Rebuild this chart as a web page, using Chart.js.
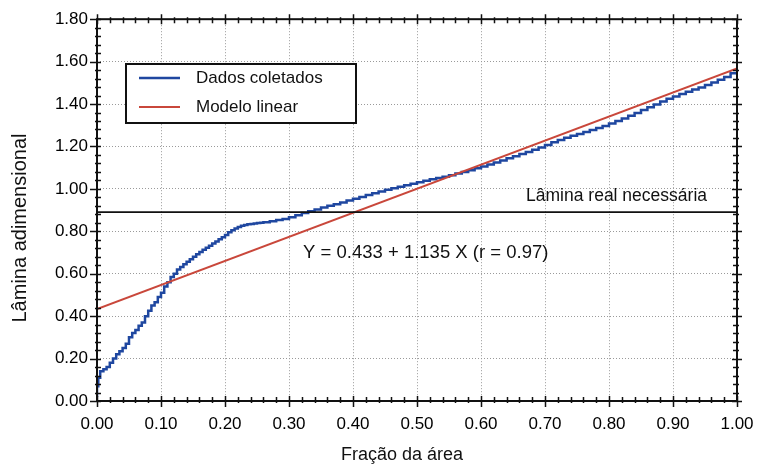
<!DOCTYPE html>
<html>
<head>
<meta charset="utf-8">
<script src="https://cdn.jsdelivr.net/npm/chart.js@4/dist/chart.umd.min.js"></script>
<style>
  html, body { margin: 0; padding: 0; background: #ffffff; }
  canvas { display: block; }
</style>
</head>
<body>
<canvas id="grafico" width="767" height="466"></canvas>
<script>
// Fração da área (eixo X) e lâmina adimensional medida (eixo Y)
const fracaoArea = [
  0.000, 0.002, 0.005, 0.010, 0.015, 0.020, 0.025, 0.030, 0.035, 0.040,
  0.045, 0.050, 0.055, 0.060, 0.065, 0.070, 0.075, 0.080, 0.085, 0.090,
  0.095, 0.100, 0.105, 0.110, 0.115, 0.120, 0.125, 0.130, 0.135, 0.140,
  0.145, 0.150, 0.155, 0.160, 0.165, 0.170, 0.175, 0.180, 0.185, 0.190,
  0.195, 0.200, 0.205, 0.210, 0.215, 0.220, 0.225, 0.230, 0.235, 0.240,
  0.245, 0.250, 0.255, 0.260, 0.270, 0.280, 0.290, 0.300, 0.310, 0.320,
  0.330, 0.340, 0.350, 0.360, 0.370, 0.380, 0.390, 0.400, 0.410, 0.420,
  0.430, 0.440, 0.450, 0.460, 0.470, 0.480, 0.490, 0.500, 0.510, 0.520,
  0.530, 0.540, 0.550, 0.560, 0.570, 0.580, 0.590, 0.600, 0.610, 0.620,
  0.630, 0.640, 0.650, 0.660, 0.670, 0.680, 0.690, 0.700, 0.710, 0.720,
  0.730, 0.740, 0.750, 0.760, 0.770, 0.780, 0.790, 0.800, 0.810, 0.820,
  0.830, 0.840, 0.850, 0.860, 0.870, 0.880, 0.890, 0.900, 0.910, 0.920,
  0.930, 0.940, 0.950, 0.960, 0.970, 0.980, 0.990, 1.000
];
const laminaColetada = [
  0.020, 0.070, 0.110, 0.140, 0.150, 0.160, 0.180, 0.200, 0.220, 0.235,
  0.250, 0.270, 0.300, 0.320, 0.335, 0.355, 0.370, 0.400, 0.425, 0.450,
  0.465, 0.490, 0.510, 0.540, 0.560, 0.585, 0.600, 0.620, 0.632, 0.645,
  0.657, 0.668, 0.680, 0.692, 0.703, 0.713, 0.722, 0.732, 0.742, 0.752,
  0.762, 0.772, 0.783, 0.795, 0.805, 0.813, 0.820, 0.826, 0.830, 0.833,
  0.835, 0.837, 0.839, 0.840, 0.843, 0.848, 0.853, 0.858, 0.866, 0.876,
  0.886, 0.895, 0.903, 0.912, 0.920, 0.928, 0.936, 0.945, 0.953, 0.962,
  0.971, 0.979, 0.988, 0.996, 1.003, 1.010, 1.017, 1.024, 1.031, 1.038,
  1.045, 1.051, 1.057, 1.064, 1.072, 1.080, 1.088, 1.097, 1.106, 1.115,
  1.124, 1.134, 1.144, 1.154, 1.164, 1.174, 1.184, 1.195, 1.207, 1.220,
  1.231, 1.241, 1.250, 1.259, 1.268, 1.278, 1.287, 1.297, 1.308, 1.320,
  1.332, 1.345, 1.358, 1.372, 1.385, 1.398, 1.412, 1.425, 1.436, 1.447,
  1.458, 1.468, 1.478, 1.490, 1.502, 1.515, 1.528, 1.545
];

// Modelo linear ajustado: Y = a + b X
const interceptoModelo = 0.433;
const inclinacaoModelo = 1.135;
const coefCorrelacao = 0.97;
const extremosX = [0, 1];

// Lâmina real necessária (linha de referência)
const laminaNecessaria = 0.89;

// Marcas dos eixos
const ticksX = [0.0, 0.1, 0.2, 0.3, 0.4, 0.5, 0.6, 0.7, 0.8, 0.9, 1.0];
const ticksY = [0.0, 0.2, 0.4, 0.6, 0.8, 1.0, 1.2, 1.4, 1.6, 1.8];

const rotuloDados = 'Dados coletados';
const rotuloModelo = 'Modelo linear';
const rotuloNecessaria = 'Lâmina real necessária';
const tituloX = 'Fração da área';
const tituloY = 'Lâmina adimensional';

const FONTE = "'Liberation Sans', Arial, sans-serif";
const COR_AZUL = '#1f47a0';
const COR_VERMELHO = '#c9473b';

const pontosDados = fracaoArea.map((x, i) => ({ x: x, y: laminaColetada[i] }));
const pontosModelo = extremosX.map(x => ({ x: x, y: interceptoModelo + inclinacaoModelo * x }));
const pontosNecessaria = extremosX.map(x => ({ x: x, y: laminaNecessaria }));
const textoEquacao = 'Y = ' + interceptoModelo.toFixed(3) + ' + ' + inclinacaoModelo.toFixed(3) +
  ' X (r = ' + coefCorrelacao.toFixed(2) + ')';

// Moldura com marcas principais e secundárias, legenda e anotações
const decoracao = {
  id: 'decoracao',
  afterDatasetsDraw(chart) {
    const ctx = chart.ctx;
    const a = chart.chartArea;
    const sx = chart.scales.x, sy = chart.scales.y;
    ctx.save();
    ctx.strokeStyle = '#111';
    ctx.lineWidth = 2;
    ctx.strokeRect(a.left, a.top, a.right - a.left, a.bottom - a.top);
    ctx.lineWidth = 1.5;
    ctx.beginPath();
    for (let k = 0; k <= 50; k++) {
      const px = Math.round(sx.getPixelForValue(k * 0.02)) + 0.5;
      const major = k % 5 === 0;
      ctx.moveTo(px, a.bottom + (major ? 6 : 2));
      ctx.lineTo(px, a.bottom - (major ? 5 : 4));
      ctx.moveTo(px, a.top - (major ? 5 : 2));
      ctx.lineTo(px, a.top + (major ? 5 : 4));
    }
    for (let k = 0; k <= 45; k++) {
      const py = Math.round(sy.getPixelForValue(k * 0.04)) + 0.5;
      const major = k % 5 === 0;
      ctx.moveTo(a.left - (major ? 7 : 2), py);
      ctx.lineTo(a.left + 4, py);
      ctx.moveTo(a.right + (major ? 5 : 2), py);
      ctx.lineTo(a.right - (major ? 5 : 4), py);
    }
    ctx.stroke();
    ctx.restore();
  },
  afterDraw(chart) {
    const ctx = chart.ctx;
    const a = chart.chartArea;
    const sx = chart.scales.x, sy = chart.scales.y;
    ctx.save();

    // Legenda
    const lx = a.left + 29, ly = 64, lw = 230, lh = 59;
    ctx.fillStyle = '#ffffff';
    ctx.fillRect(lx, ly, lw, lh);
    ctx.strokeStyle = '#111';
    ctx.lineWidth = 2;
    ctx.strokeRect(lx, ly, lw, lh);
    ctx.lineWidth = 2.5;
    ctx.strokeStyle = COR_AZUL;
    ctx.beginPath(); ctx.moveTo(lx + 13, ly + 14); ctx.lineTo(lx + 54, ly + 14); ctx.stroke();
    ctx.lineWidth = 2;
    ctx.strokeStyle = COR_VERMELHO;
    ctx.beginPath(); ctx.moveTo(lx + 13, ly + 43); ctx.lineTo(lx + 54, ly + 43); ctx.stroke();
    ctx.fillStyle = '#111';
    ctx.font = '17px ' + FONTE;
    ctx.textAlign = 'left';
    ctx.textBaseline = 'middle';
    ctx.fillText(rotuloDados, lx + 70, ly + 14);
    ctx.fillText(rotuloModelo, lx + 70, ly + 43);

    // Anotações
    ctx.font = '17.5px ' + FONTE;
    ctx.textAlign = 'right';
    ctx.fillText(rotuloNecessaria, a.right - 30, sy.getPixelForValue(laminaNecessaria) - 16);
    ctx.font = '18.5px ' + FONTE;
    ctx.textAlign = 'left';
    ctx.fillText(textoEquacao, sx.getPixelForValue(0.322), sy.getPixelForValue(0.70));

    // Títulos dos eixos
    ctx.font = '18px ' + FONTE;
    ctx.textAlign = 'center';
    ctx.fillText(tituloX, 402, 455);
    ctx.translate(20, 228);
    ctx.rotate(-Math.PI / 2);
    ctx.font = '20px ' + FONTE;
    ctx.fillText(tituloY, 0, 0);
    ctx.restore();
  }
};

new Chart(document.getElementById('grafico'), {
  type: 'line',
  data: {
    datasets: [
      {
        label: rotuloNecessaria,
        data: pontosNecessaria,
        borderColor: '#111',
        borderWidth: 1.8,
        pointRadius: 0,
        order: 0
      },
      {
        label: rotuloModelo,
        data: pontosModelo,
        borderColor: COR_VERMELHO,
        borderWidth: 2,
        pointRadius: 0,
        order: 1
      },
      {
        label: rotuloDados,
        data: pontosDados,
        borderColor: COR_AZUL,
        borderWidth: 2.5,
        pointRadius: 0,
        stepped: 'after',
        order: 2
      }
    ]
  },
  options: {
    responsive: false,
    animation: false,
    events: [],
    layout: { padding: { top: 17, right: 30, left: 0, bottom: 0 } },
    plugins: { legend: { display: false }, tooltip: { enabled: false } },
    scales: {
      x: {
        type: 'linear',
        min: 0, max: 1,
        afterFit(s) { s.height = 65; },
        afterBuildTicks(s) { s.ticks = ticksX.map(v => ({ value: v })); },
        ticks: {
          padding: 13,
          color: '#000',
          font: { family: FONTE, size: 17 },
          maxRotation: 0,
          callback: v => Number(v).toFixed(2)
        },
        grid: { color: '#9a9a9a', lineWidth: 1, drawTicks: false },
        border: { display: false, dash: [1, 2] }
      },
      y: {
        type: 'linear',
        min: 0, max: 1.8,
        afterFit(s) { s.width = 97; },
        afterBuildTicks(s) { s.ticks = ticksY.map(v => ({ value: v })); },
        ticks: {
          padding: 9,
          color: '#000',
          font: { family: FONTE, size: 17 },
          callback: v => Number(v).toFixed(2)
        },
        grid: { color: '#9a9a9a', lineWidth: 1, drawTicks: false },
        border: { display: false, dash: [1, 2] }
      }
    }
  },
  plugins: [decoracao]
});
</script>
</body>
</html>
